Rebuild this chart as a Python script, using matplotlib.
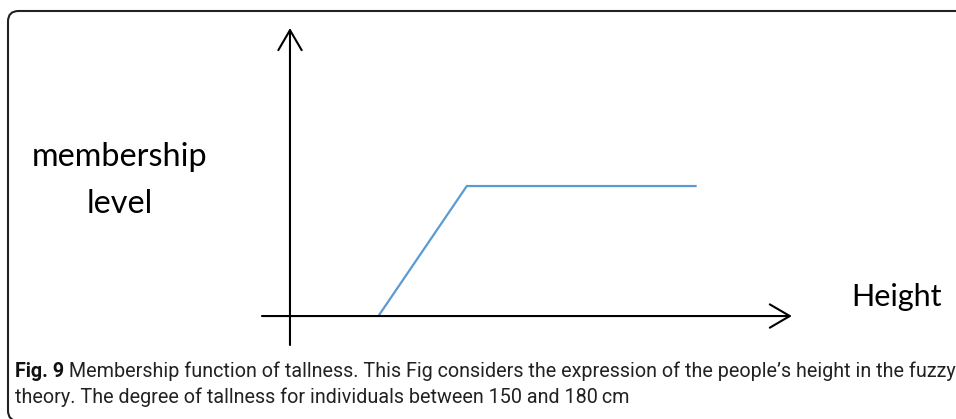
import matplotlib
matplotlib.use("Agg")
import matplotlib.pyplot as plt
from matplotlib.patches import FancyBboxPatch

# ---- data ----
heights = [150, 180, 258]          # cm
membership = [0, 1, 1]             # membership level
x_axis_range = [110.5, 290.3]      # x-axis drawn extent (cm)
y_axis_range = [-0.223, 2.215]     # y-axis drawn extent
y_axis_at = 120                    # x position of vertical axis
ylabel_lines = ["membership", "level"]
xlabel = "Height"
caption_bold = "Fig. 9"
caption_line1 = " Membership function of tallness. This Fig considers the expression of the people\u2019s height in the fuzzy"
caption_line2 = "theory. The degree of tallness for individuals between 150 and 180\u2009cm"

W, H = 956, 419
fig = plt.figure(figsize=(W / 100, H / 100), dpi=100)
fig.patch.set_facecolor("white")

ax = fig.add_axes([0, 0, 1, 1])
ax.set_xlim(21.6, 346.0)
ax.set_ylim(-0.792, 2.431)
ax.axis("off")

# axes with open arrowheads
arrow_kw = dict(arrowstyle="->,head_length=14.4,head_width=8.4", color="black",
                lw=1.5, shrinkA=0, shrinkB=0, mutation_scale=1)
ax.annotate("", xy=(x_axis_range[1], 0), xytext=(x_axis_range[0], 0), arrowprops=arrow_kw)
ax.annotate("", xy=(y_axis_at, y_axis_range[1]), xytext=(y_axis_at, y_axis_range[0]), arrowprops=arrow_kw)

# membership function
ax.plot(heights, membership, color="#5B9BD5", lw=1.6, solid_capstyle="butt")

# rounded border (figure pixels)
def fx(px):
    return px / W

def fy(py_from_top):
    return 1 - py_from_top / H

border = FancyBboxPatch((fx(8), fy(421)), fx(1010) - fx(8), fy(11) - fy(421),
                        boxstyle="round,pad=0,rounding_size=0.011",
                        transform=fig.transFigure, fill=False, ec="#222222", lw=1.5,
                        clip_on=False, mutation_aspect=W / H)
fig.add_artist(border)

label_font = ["Lato", "DejaVu Sans"]
fig.text(fx(120), fy(166), ylabel_lines[0], ha="center", va="baseline",
         fontsize=23.3, family=label_font, color="black")
fig.text(fx(120), fy(213), ylabel_lines[1], ha="center", va="baseline",
         fontsize=23.3, family=label_font, color="black")
fig.text(fx(851), fy(306), xlabel, ha="left", va="baseline",
         fontsize=22, family=label_font, color="black")

cap_font = ["Roboto", "DejaVu Sans"]
fig.canvas.draw()
r = fig.canvas.get_renderer()


def build_caption(size):
    tb = fig.text(fx(15), fy(377), caption_bold, ha="left", va="baseline",
                  fontsize=size, family=cap_font, weight="bold", color="#111111")
    bb = tb.get_window_extent(r)
    t1 = fig.text(bb.x1 / W, fy(377), caption_line1, ha="left", va="baseline",
                  fontsize=size, family=cap_font, color="#222222")
    t2 = fig.text(fx(15), fy(403), caption_line2, ha="left", va="baseline",
                  fontsize=size, family=cap_font, color="#222222")
    return tb, t1, t2


size = 12.0
texts = build_caption(size)
right = texts[1].get_window_extent(r).x1
for t in texts:
    t.remove()
size = size * (953 - 15) / (right - 15)
build_caption(size)

fig.savefig("out.png", dpi=100, facecolor="white")
